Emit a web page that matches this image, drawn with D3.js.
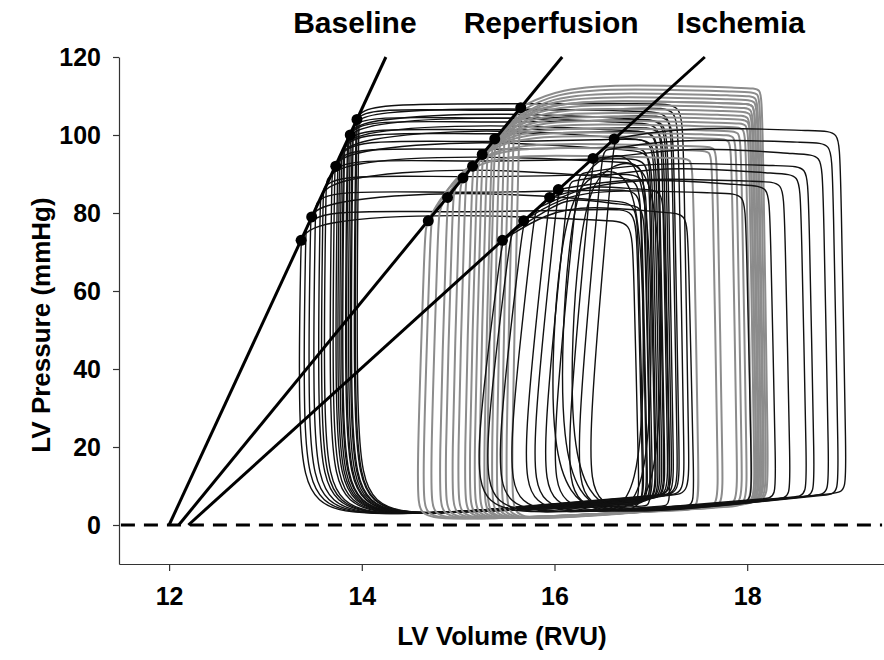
<!DOCTYPE html>
<html>
<head>
<meta charset="utf-8">
<script src="https://cdn.jsdelivr.net/npm/d3@7"></script>
<style>
  body { margin: 0; background: #fff; }
  text { font-family: "Liberation Sans", Arial, sans-serif; font-weight: bold; fill: #000; }
</style>
</head>
<body>
<svg id="chart" width="884" height="660"></svg>
<script>
// ticks
const xTicks = [12, 14, 16, 18];
const yTicks = [0, 20, 40, 60, 80, 100, 120];

// series labels
const seriesNames = ["Baseline", "Reperfusion", "Ischemia"];

// Baseline loops (black): end-systolic volume / pressure, plateau pressure,
// pressure mid-ejection, end-diastolic volume / pressure
const baseEsv = [13.37, 13.42, 13.47, 13.52, 13.57, 13.6, 13.63, 13.69, 13.72, 13.75, 13.77, 13.79, 13.81, 13.82, 13.85, 13.86, 13.88, 13.9, 13.91, 13.94, 13.95, 13.97];
const baseEsp = [73, 76, 79, 82, 84, 86, 88, 90, 92, 93, 94, 95, 96, 97, 98, 99, 100, 101, 102, 103, 104, 105];
const basePk  = [78, 81, 83, 86, 89, 90, 93, 94, 96, 97, 99, 99, 101, 101, 102, 103, 104, 104, 105, 106, 107, 108];
const baseMid = [80, 80, 86, 85, 92, 89, 95, 93, 99, 96, 98, 102, 100, 103, 101, 105, 103, 106, 104, 107, 106, 108];
const baseEdv = [16.88, 16.92, 16.93, 16.97, 16.96, 17.02, 17.0, 17.05, 17.08, 17.06, 17.12, 17.1, 17.15, 17.14, 17.2, 17.18, 17.24, 17.22, 17.3, 17.28, 17.35, 17.4];
const baseEdp = [5, 5, 5.5, 5.5, 6, 6, 6, 6.5, 6.5, 6.5, 7, 7, 7, 7, 7.5, 7.5, 7.5, 8, 8, 8, 8, 8];

// Reperfusion loops (gray)
const repEsv = [14.66, 14.72, 14.8, 14.89, 14.95, 15.02, 15.08, 15.15, 15.2, 15.25, 15.3, 15.35, 15.38, 15.43, 15.48, 15.53, 15.58, 15.64];
const repEsp = [77, 79, 81, 84, 86, 88, 90, 92, 93, 95, 96, 98, 99, 100, 102, 103, 105, 107];
const repPk  = [94, 96, 97, 99, 100, 101, 102, 103, 104, 105, 106, 107, 108, 108, 109, 110, 111, 112];
const repMid = [95, 97, 98, 100, 101, 102, 103, 104, 105, 106, 107, 108, 109, 109, 110, 111, 112, 113];
const repEdv = [17.5, 17.7, 17.75, 17.9, 17.95, 18.0, 18.05, 18.08, 18.1, 18.1, 18.12, 18.13, 18.15, 18.15, 18.17, 18.18, 18.2, 18.22];
const repEdp = [4, 4.5, 4.5, 5, 5, 5, 5.5, 5.5, 5.5, 6, 6, 6, 6, 6, 6.5, 6.5, 6.5, 6.5];

// Ischemia loops (black), the last three are the small rounded ones
const iscEsv = [15.46, 15.55, 15.68, 15.8, 15.95, 16.04, 16.15, 16.25, 16.4, 16.5, 16.62, 16.2, 16.3, 16.1];
const iscEsp = [73, 75, 78, 81, 84, 86, 88, 90, 94, 96, 99, 86, 84, 80];
const iscPk  = [80, 82, 85, 86, 87, 88, 90, 92, 95, 98, 101, 92, 90, 88];
const iscMid = [82, 84, 86, 87, 89, 89, 92, 93, 97, 99, 102, 92, 90, 88];
const iscEdv = [17.45, 17.0, 18.05, 17.2, 18.3, 18.45, 18.62, 18.7, 18.85, 18.95, 19.03, 16.98, 17.08, 16.9];
const iscEdp = [5, 5, 6, 5, 7, 7, 7.5, 7.5, 8, 8, 8.5, 5, 5, 5];
const iscRound = [0, 0, 0, 0, 0, 0, 0, 0, 0, 0, 0, 1, 1, 1];

// ESPVR lines (volume, pressure) and the end-systolic points marked on them
const espvrBase = [[12.0, 0], [14.25, 120]];
const espvrRep  = [[12.1, 0], [16.08, 120]];
const espvrIsc  = [[12.2, 0], [17.56, 120]];
const dotsBase = [[13.37, 73], [13.48, 79], [13.73, 92], [13.88, 100], [13.95, 104]];
const dotsRep  = [[14.69, 78], [14.89, 84], [15.05, 89], [15.15, 92], [15.25, 95], [15.38, 99], [15.65, 107]];
const dotsIsc  = [[15.46, 73], [15.68, 78], [15.95, 84], [16.04, 86], [16.4, 94], [16.62, 99]];

const svg = d3.select("#chart");
const x = d3.scaleLinear().domain([11.48, 19.42]).range([119, 884]);
const y = d3.scaleLinear().domain([-10, 120]).range([564, 57]);

// control points of one pressure-volume loop (smoothed with a closed B-spline)
// s = shape settings: lean of the left edge, shoulder width, minimum pressure,
// rounding of the top-right and bottom-left corners
function loopPoints(esv, esp, pk, mid, edv, edp, s) {
  const w = edv - esv;
  return [
    [edv, edp], [edv, edp],
    [edv - 0.06, pk - s.rr],
    [edv - 0.08, pk],
    [edv - 0.08 - s.rr * 0.03, pk],
    [esv + w * 0.45, mid],
    [esv + s.sh, pk],
    [esv, esp], [esv, esp],
    [esv + s.lean, s.pMin + s.rl],
    [esv + s.lean + s.rl * 0.008, s.pMin + 1.5],
    [esv + s.lean + s.rl * 0.045, s.pMin],
    [esv + w * 0.6, (s.pMin + edp) / 2]
  ];
}

// rounded (oval) loops seen in ischemia
function ovalPoints(esv, esp, pk, edv, edp, pMin) {
  const w = edv - esv;
  return [
    [edv, edp], [edv + 0.04, pk * 0.6], [edv - w * 0.05, pk + 4],
    [esv + w * 0.35, pk + 3], [esv - 0.05, esp],
    [esv - 0.2, pMin + 10], [esv + w * 0.4, pMin - 1]
  ];
}

const loopLine = d3.line()
  .x(d => x(d[0]))
  .y(d => y(d[1]))
  .curve(d3.curveBasisClosed);

// axes
const xAxis = d3.axisBottom(x).tickValues(xTicks).tickSize(7).tickSizeOuter(0).tickPadding(16);
const yAxis = d3.axisLeft(y).tickValues(yTicks).tickSize(6).tickSizeOuter(0).tickPadding(12);

svg.append("g").attr("transform", "translate(0,564)").call(xAxis)
  .call(g => g.selectAll("text").style("font-size", "25px"));
svg.append("g").attr("transform", "translate(119,0)").call(yAxis)
  .call(g => g.selectAll("text").style("font-size", "25px"));
svg.selectAll(".domain, .tick line").attr("stroke", "#333").attr("stroke-width", 1.2);

// zero line
svg.append("line")
  .attr("x1", x(11.5)).attr("x2", x(19.4))
  .attr("y1", y(0)).attr("y2", y(0))
  .attr("stroke", "#000").attr("stroke-width", 3)
  .attr("stroke-dasharray", "14,9");

// loops
const loops = svg.append("g").attr("fill", "none").attr("stroke-linejoin", "round");

const baseShape = { lean: -0.04, sh: 0.12, pMin: 2.5, rr: 9, rl: 18 };
const repShape  = { lean: -0.1, sh: 0.4, pMin: 1.2, rr: 4, rl: 6 };
const iscShape  = { lean: -0.3, sh: 0.45, pMin: 3, rr: 7, rl: 14 };

baseEsv.forEach((v, i) => {
  loops.append("path")
    .attr("d", loopLine(loopPoints(v, baseEsp[i], basePk[i], baseMid[i], baseEdv[i], baseEdp[i], baseShape)))
    .attr("stroke", "#111").attr("stroke-width", 1.4);
});

repEsv.forEach((v, i) => {
  loops.append("path")
    .attr("d", loopLine(loopPoints(v, repEsp[i], repPk[i], repMid[i], repEdv[i], repEdp[i], repShape)))
    .attr("stroke", "#8c8c8c").attr("stroke-width", 2);
});

iscEsv.forEach((v, i) => {
  const pts = iscRound[i]
    ? ovalPoints(v, iscEsp[i], iscPk[i], iscEdv[i], iscEdp[i], 3)
    : loopPoints(v, iscEsp[i], iscPk[i], iscMid[i], iscEdv[i], iscEdp[i], iscShape);
  loops.append("path")
    .attr("d", loopLine(pts))
    .attr("stroke", "#111").attr("stroke-width", 1.4);
});

// ESPVR lines and dots
const straight = d3.line().x(d => x(d[0])).y(d => y(d[1]));
[espvrBase, espvrRep, espvrIsc].forEach(l => {
  svg.append("path").attr("d", straight(l))
    .attr("fill", "none").attr("stroke", "#000").attr("stroke-width", 3);
});
[dotsBase, dotsRep, dotsIsc].forEach(ds => {
  svg.append("g").selectAll("circle").data(ds).join("circle")
    .attr("cx", d => x(d[0])).attr("cy", d => y(d[1])).attr("r", 5.5)
    .attr("fill", "#000");
});

// series labels over the ESPVR lines
[espvrBase, espvrRep, espvrIsc].forEach((l, i) => {
  svg.append("text")
    .attr("x", x(l[1][0]) + [-31, -11, 36][i])
    .attr("y", 33)
    .attr("text-anchor", "middle")
    .style("font-size", "30px")
    .text(seriesNames[i]);
});

// axis titles
svg.append("text")
  .attr("x", 502).attr("y", 645)
  .attr("text-anchor", "middle")
  .style("font-size", "26px")
  .text("LV Volume (RVU)");

svg.append("text")
  .attr("transform", "translate(50,325) rotate(-90)")
  .attr("text-anchor", "middle")
  .style("font-size", "26px")
  .text("LV Pressure (mmHg)");
</script>
</body>
</html>
